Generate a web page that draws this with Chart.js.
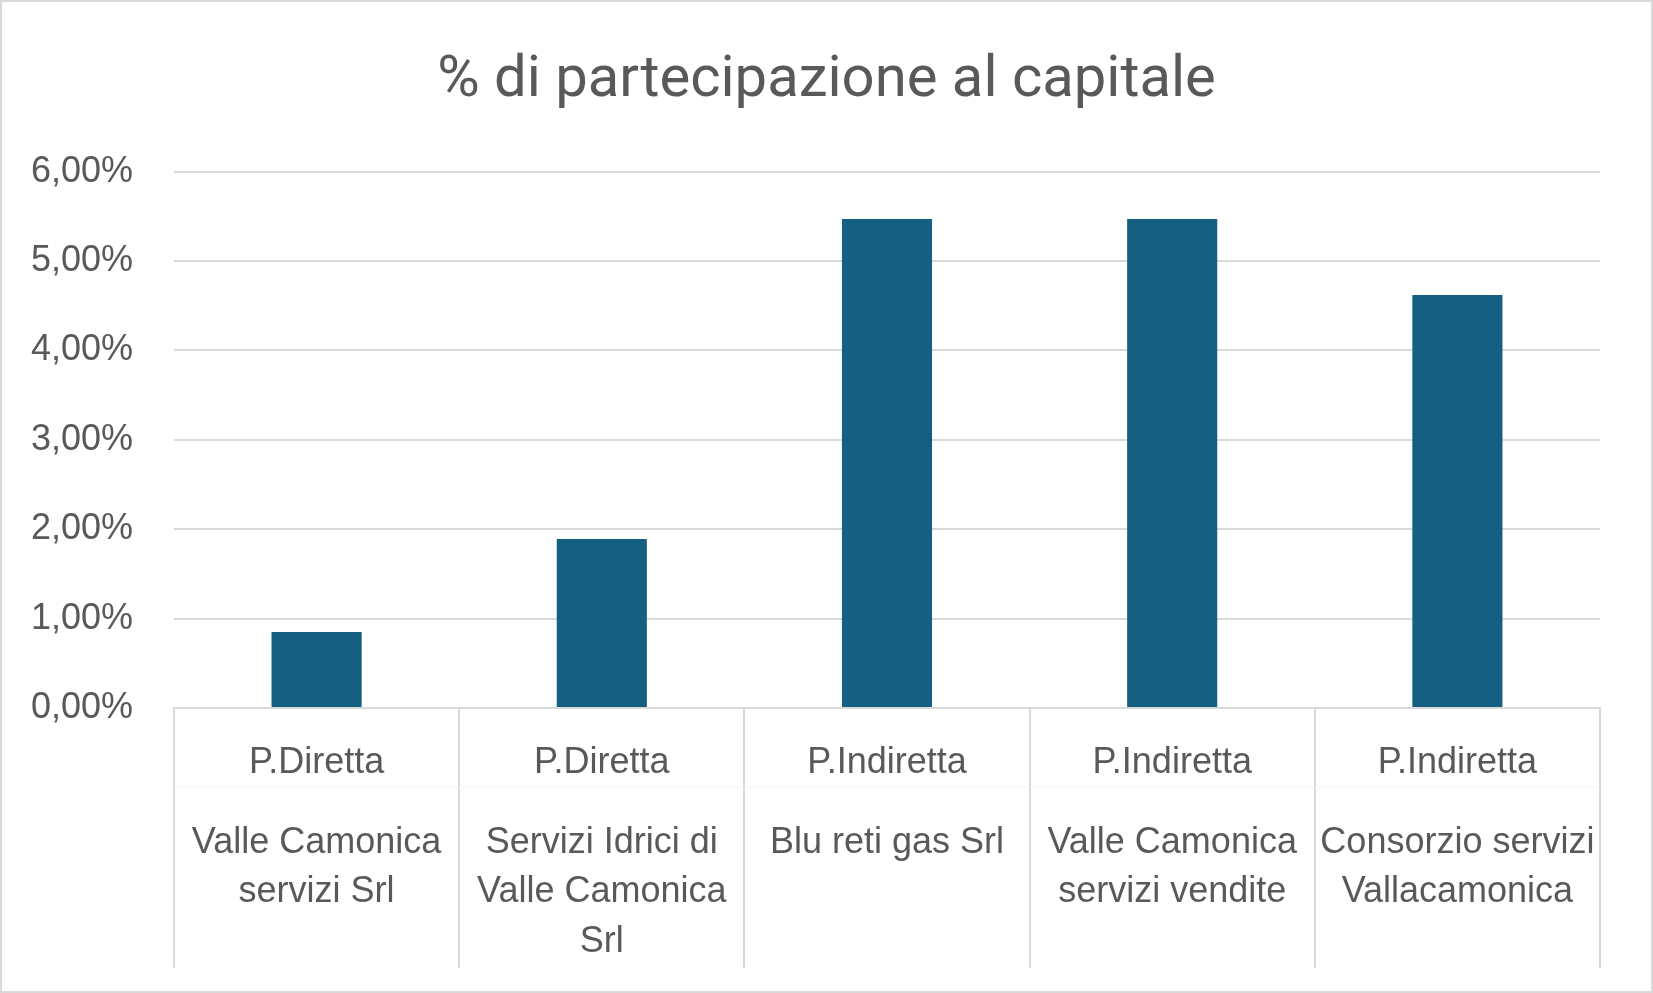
<!DOCTYPE html>
<html lang="it">
<head>
<meta charset="UTF-8">
<title>% di partecipazione al capitale</title>
<style>
  body { margin: 0; background: #ffffff; }
  #wrap { width: 1653px; height: 993px; }
</style>
</head>
<body>
<div id="wrap"><canvas id="chart" width="1653" height="993"></canvas></div>
<script src="https://cdn.jsdelivr.net/npm/chart.js"></script>
<script>
// Data
const groups = ['P.Diretta', 'P.Diretta', 'P.Indiretta', 'P.Indiretta', 'P.Indiretta'];
const companies = [
  ['Valle Camonica', 'servizi Srl'],
  ['Servizi Idrici di', 'Valle Camonica', 'Srl'],
  ['Blu reti gas Srl'],
  ['Valle Camonica', 'servizi vendite'],
  ['Consorzio servizi', 'Vallacamonica']
];
const shares = [0.85, 1.89, 5.47, 5.47, 4.62]; // percent
const yTicks = [0, 1, 2, 3, 4, 5, 6];

const textColor = '#595959';
const lineColor = '#d9d9d9';

// background, outer border, group labels and the faint divider between the two label rows
const frame = {
  id: 'frame',
  beforeDraw(chart) {
    const ctx = chart.ctx;
    ctx.save();
    ctx.fillStyle = '#ffffff';
    ctx.fillRect(0, 0, chart.width, chart.height);
    ctx.strokeStyle = lineColor;
    ctx.lineWidth = 2;
    ctx.strokeRect(1, 1, chart.width - 2, chart.height - 2);
    ctx.restore();
  },
  afterDraw(chart) {
    const ctx = chart.ctx;
    const x = chart.scales.x;
    ctx.save();
    ctx.strokeStyle = '#f2f2f2';
    ctx.lineWidth = 1;
    ctx.beginPath();
    ctx.moveTo(x.left + 2, x.top + 79);
    ctx.lineTo(x.right - 2, x.top + 79);
    ctx.stroke();
    ctx.fillStyle = textColor;
    ctx.font = '36px "Liberation Sans", Arial, sans-serif';
    ctx.textAlign = 'center';
    ctx.textBaseline = 'alphabetic';
    groups.forEach((g, i) => {
      ctx.fillText(g, x.getPixelForValue(i), x.top + 65);
    });
    ctx.restore();
  }
};

new Chart(document.getElementById('chart'), {
  type: 'bar',
  data: {
    labels: companies,
    datasets: [{
      label: '% di partecipazione al capitale',
      data: shares,
      backgroundColor: '#156082',
      barPercentage: 0.316,
      categoryPercentage: 1
    }]
  },
  options: {
    responsive: false,
    devicePixelRatio: 1,
    animation: false,
    layout: { padding: { left: 0, right: 0, top: 0, bottom: 25 } },
    plugins: {
      legend: { display: false },
      tooltip: { enabled: false },
      title: {
        display: true,
        text: '% di partecipazione al capitale',
        color: textColor,
        font: { family: 'Roboto', size: 58, weight: 'normal' },
        padding: { top: 47, bottom: 55 }
      }
    },
    scales: {
      x: {
        grid: {
          offset: true,
          drawOnChartArea: false,
          drawTicks: true,
          tickLength: 260,
          color: lineColor,
          lineWidth: 2
        },
        border: { display: true, color: lineColor, width: 2 },
        ticks: {
          color: textColor,
          font: { family: '"Liberation Sans", Arial, sans-serif', size: 36, lineHeight: 1.38 },
          padding: -150,
          maxRotation: 0,
          autoSkip: false
        },
        afterFit(scale) { scale.height = 260; }
      },
      y: {
        min: 0,
        max: 6,
        afterBuildTicks(scale) { scale.ticks = yTicks.map(v => ({ value: v })); },
        grid: { color: lineColor, lineWidth: 2, drawTicks: false },
        border: { display: false },
        ticks: {
          color: textColor,
          font: { family: '"Liberation Sans", Arial, sans-serif', size: 36 },
          padding: 41,
          callback: v => v.toFixed(2).replace('.', ',') + '%'
        },
        afterFit(scale) { scale.width = 174; }
      },
      // empty right-hand axis, only keeps the plot clear of the right edge
      yRight: {
        position: 'right',
        min: 0,
        max: 6,
        grid: { drawOnChartArea: false, drawTicks: false },
        border: { display: false },
        ticks: { display: false },
        afterFit(scale) { scale.width = 53; }
      }
    }
  },
  plugins: [frame]
});
</script>
</body>
</html>
